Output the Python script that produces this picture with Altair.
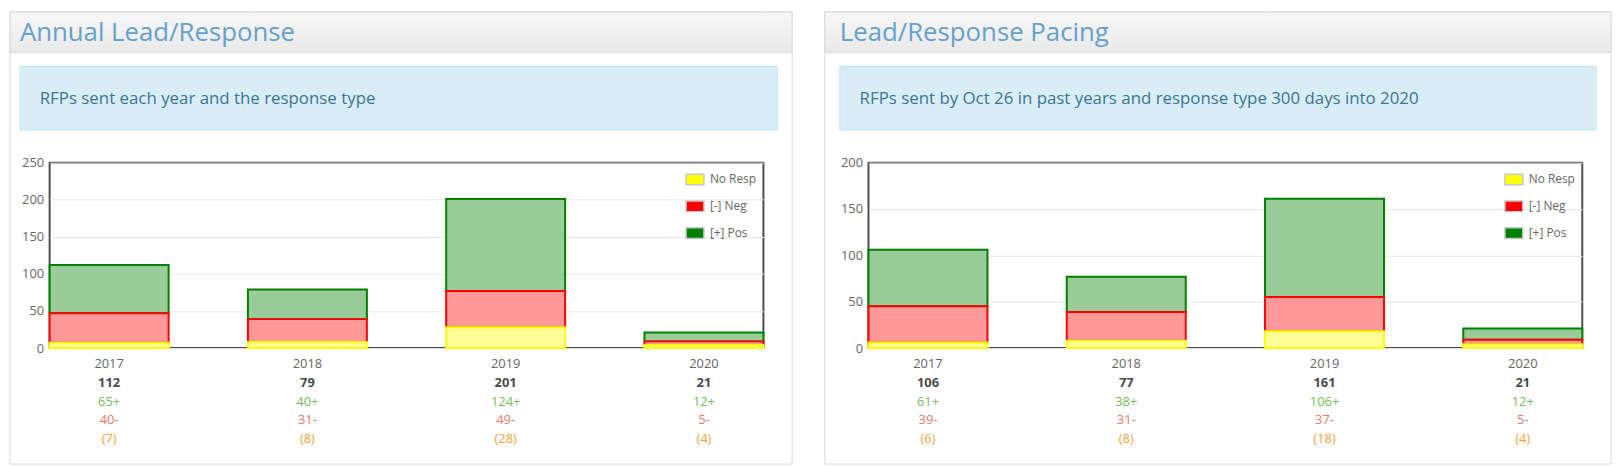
import altair as alt
import pandas as pd

years = ["2017", "2018", "2019", "2020"]

annual_total = [112, 79, 201, 21]
annual_pos = [65, 40, 124, 12]
annual_neg = [40, 31, 49, 5]
annual_noresp = [7, 8, 28, 4]

pacing_total = [106, 77, 161, 21]
pacing_pos = [61, 38, 106, 12]
pacing_neg = [39, 31, 37, 5]
pacing_noresp = [6, 8, 18, 4]

series_names = ["No Resp", "[-] Neg", "[+] Pos"]
strong_colors = ["#ffff00", "#ff0000", "#008000"]
pale_colors = ["#ffff99", "#ff9999", "#99cc99"]

panel_titles = ["Annual Lead/Response", "Lead/Response Pacing"]
panel_notes = [
    "RFPs sent each year and the response type",
    "RFPs sent by Oct 26 in past years and response type 300 days into 2020",
]
y_max = [250, 200]

FONT = "Open Sans"
W, H = 720, 187


def stacked_table(total, pos, neg, noresp):
    rows = []
    for i, yr in enumerate(years):
        start = 0
        for name, v in zip(series_names, [noresp[i], neg[i], pos[i]]):
            rows.append({"year": yr, "series": name, "start": start, "end": start + v})
            start += v
    return pd.DataFrame(rows)


def label_table(total, pos, neg, noresp):
    return pd.DataFrame({
        "year": years,
        "total": [str(t) for t in total],
        "pos": [f"{p}+" for p in pos],
        "neg": [f"{n}-" for n in neg],
        "nr": [f"({r})" for r in noresp],
    })


def panel(title, note, total, pos, neg, noresp, ymax, frame_left, inner_left):
    df = stacked_table(total, pos, neg, noresp)
    lab = label_table(total, pos, neg, noresp)
    one = pd.DataFrame({"k": [0]})

    xenc = alt.X("year:O", scale=alt.Scale(domain=years, paddingInner=0.4, paddingOuter=0),
                 axis=alt.Axis(title=None, labelAngle=0, ticks=False, domain=False, grid=False,
                               labelPadding=10, labelFontSize=13, labelColor="#666666",
                               labelFont=FONT))
    yscale = alt.Scale(domain=[0, ymax], nice=False)
    yaxis = alt.Axis(title=None, values=list(range(0, ymax + 1, 50)), ticks=False, domain=False,
                     labelPadding=6, labelFontSize=13, labelColor="#666666", labelFont=FONT,
                     gridColor="#e6e6e6", gridWidth=1)

    frame = alt.Chart(one).mark_rect(fillOpacity=0, stroke="#dadada", strokeWidth=1).encode(
        x=alt.value(frame_left), x2=alt.value(749), y=alt.value(-152), y2=alt.value(304))
    header = alt.Chart(one).mark_rect(
        fill=alt.LinearGradient(gradient="linear", x1=0, x2=0, y1=0, y2=1,
                                stops=[alt.GradientStop(color="#f7f7f7", offset=0),
                                       alt.GradientStop(color="#e9e9e9", offset=1)]),
        stroke="#dadada", strokeWidth=1).encode(
        x=alt.value(frame_left), x2=alt.value(749), y=alt.value(-152), y2=alt.value(-111))
    title_t = alt.Chart(one).mark_text(align="left", baseline="alphabetic", fontSize=26,
                                       font=FONT, color="#66a0cc").encode(
        x=alt.value(inner_left), y=alt.value(-123), text=alt.value(title))
    info = alt.Chart(one).mark_rect(fill="#d9edf7", stroke="#bce8f1", strokeWidth=1).encode(
        x=alt.value(inner_left), x2=alt.value(734), y=alt.value(-97), y2=alt.value(-33))
    info_t = alt.Chart(one).mark_text(align="left", baseline="alphabetic", fontSize=17,
                                      font=FONT, color="#3b7596").encode(
        x=alt.value(inner_left + 20), y=alt.value(-59), text=alt.value(note))

    bar_layers = []
    for name, pale, strong in reversed(list(zip(series_names, pale_colors, strong_colors))):
        bar_layers.append(
            alt.Chart(df).transform_filter(alt.datum.series == name)
            .mark_bar(fill=pale, stroke=strong, strokeWidth=2)
            .encode(x=xenc, y=alt.Y("start:Q", scale=yscale, axis=yaxis), y2="end:Q")
        )

    legend_layer = alt.Chart(df).mark_square(opacity=0).encode(
        x=xenc,
        y=alt.Y("end:Q", scale=yscale, axis=yaxis),
        color=alt.Color("series:N", scale=alt.Scale(domain=series_names, range=strong_colors),
                        legend=alt.Legend(title=None, orient="top-right", offset=7, padding=0,
                                          symbolType="M-1,-0.6H1V0.6H-1Z", symbolSize=324,
                                          symbolStrokeColor="#c8c8c8", symbolStrokeWidth=1.5,
                                          symbolOpacity=1, labelFont=FONT, labelFontSize=12,
                                          labelColor="#666666", labelOffset=5, rowPadding=8)),
    )

    def row(field, y, color, weight="normal"):
        return alt.Chart(lab).mark_text(baseline="alphabetic", fontSize=13, font=FONT,
                                        color=color, fontWeight=weight).encode(
            x=xenc, y=alt.value(y), text=f"{field}:N")

    rows = [
        row("total", 226, "#4a4a4a", "bold"),
        row("pos", 245, "#74bb5c"),
        row("neg", 264, "#e9786c"),
        row("nr", 283, "#f5a03c"),
    ]

    return alt.layer(frame, header, title_t, info, info_t, *bar_layers, legend_layer, *rows).properties(
        width=W, height=H)


left = panel(panel_titles[0], panel_notes[0], annual_total, annual_pos, annual_neg, annual_noresp,
             y_max[0], -40, -30)
right = panel(panel_titles[1], panel_notes[1], pacing_total, pacing_pos, pacing_neg, pacing_noresp,
              y_max[1], -44, -29)

chart = alt.hconcat(left, right, spacing=29).resolve_scale(
    x="independent", y="independent", color="independent").resolve_legend(
    color="independent").properties(padding=0, background="white").configure(
    font=FONT).configure_view(stroke="#4d4d4d", strokeWidth=2)

chart.save("out.html", embed_options={"renderer": "svg", "actions": False})
